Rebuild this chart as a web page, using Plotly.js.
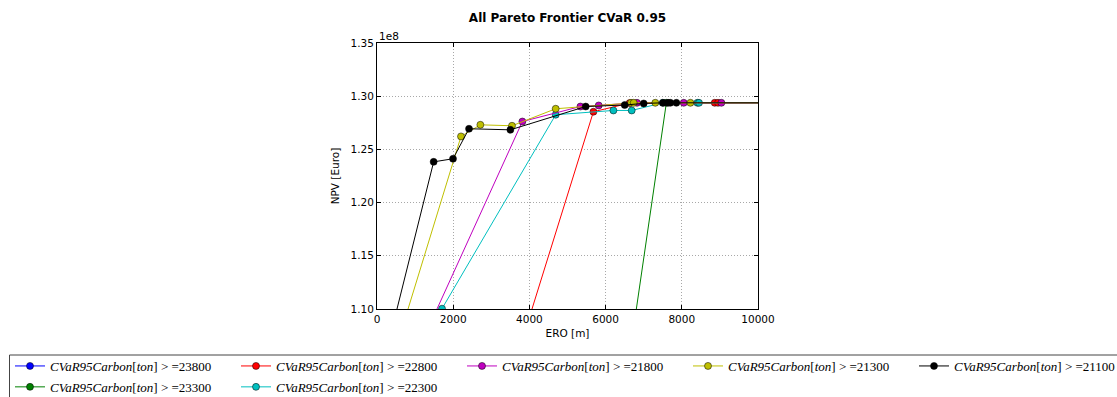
<!DOCTYPE html>
<html>
<head>
<meta charset="utf-8">
<script src="https://cdn.plot.ly/plotly-3.0.1.min.js"></script>
<style>html,body{margin:0;padding:0;background:#fff;}#chart{width:1117px;height:397px;}</style>
</head>
<body>
<div id="chart"></div>
<script>
// ERO [m] and NPV [1e8 Euro] per CVaR95 carbon constraint
const labels = ["23800", "23300", "22800", "22300", "21800", "21300", "21100"];

const ero_23800 = [10200, 10800, 11200];
const npv_23800 = [1.0700, 1.2938, 1.2938];

const ero_23300 = [6700, 7595, 10400];
const npv_23300 = [1.0737, 1.2938, 1.2938];

const ero_22800 = [3800, 5680, 6630, 8864, 8950, 10400];
const npv_22800 = [1.0692, 1.2854, 1.2935, 1.2938, 1.2938, 1.2938];

const ero_22300 = [1706, 4690, 6205, 6685, 7500, 8409, 8451, 10400];
const npv_22300 = [1.1003, 1.2826, 1.2866, 1.2866, 1.2938, 1.2938, 1.2938, 1.2938];

const ero_21800 = [1300, 3816, 5339, 5819, 6824, 8050, 9039, 10400];
const npv_21800 = [1.0784, 1.2762, 1.2903, 1.2913, 1.2938, 1.2938, 1.2938, 1.2938];

const ero_21300 = [600, 2205, 2713, 3543, 4690, 6667, 6737, 7305, 8226, 10400];
const npv_21300 = [1.0750, 1.2622, 1.2731, 1.2722, 1.2882, 1.2938, 1.2938, 1.2938, 1.2938, 1.2938];

const ero_21100 = [300, 1487, 1995, 2415, 3501, 5478, 6501, 7000, 7507, 7638, 7700, 7858, 10400];
const npv_21100 = [1.0677, 1.2383, 1.2412, 1.2694, 1.2684, 1.2903, 1.2917, 1.2932, 1.2938, 1.2938, 1.2938, 1.2938, 1.2938];

const xTicks = [0, 2000, 4000, 6000, 8000, 10000];
const yTicks = [1.10, 1.15, 1.20, 1.25, 1.30, 1.35];

const series = [
  {x: ero_23800, y: npv_23800, lab: labels[0], color: '#0000ff', legend: 'legend'},
  {x: ero_23300, y: npv_23300, lab: labels[1], color: '#008000', legend: 'legend'},
  {x: ero_22800, y: npv_22800, lab: labels[2], color: '#ff0000', legend: 'legend2'},
  {x: ero_22300, y: npv_22300, lab: labels[3], color: '#00bfbf', legend: 'legend2'},
  {x: ero_21800, y: npv_21800, lab: labels[4], color: '#bf00bf', legend: 'legend3'},
  {x: ero_21300, y: npv_21300, lab: labels[5], color: '#bfbf00', legend: 'legend4'},
  {x: ero_21100, y: npv_21100, lab: labels[6], color: '#000000', legend: 'legend5'}
];

const traces = series.map((s, i) => ({
  type: 'scatter',
  mode: 'lines+markers',
  x: s.x,
  y: s.y,
  name: '<i>CVaR95Carbon</i>[<i>ton</i>] &gt; =' + s.lab,
  legend: s.legend,
  legendgroup: 'g' + i,
  line: {color: s.color, width: 1},
  marker: {color: s.color, size: 7, line: {color: '#000', width: 0.5}},
  cliponaxis: true
}));

const W = 1117, H = 397;
const L = 377, R = 758, T = 43, B = 309;
const pw = R - L, ph = B - T;
const px = p => (p - L) / pw;
const py = p => (B - p) / ph;

const legFont = {family: 'Liberation Serif, serif', size: 13, color: '#000'};
const legBase = {
  orientation: 'v', xanchor: 'left', yanchor: 'top',
  bgcolor: 'rgba(0,0,0,0)', borderwidth: 0, font: legFont,
  tracegroupgap: 1, itemwidth: 30
};
const legTop = py(351);

const axisCommon = {
  showline: true, linecolor: '#000', linewidth: 1, mirror: 'ticks',
  ticks: 'inside', ticklen: 4, tickcolor: '#000',
  showgrid: true, gridcolor: '#a8a8a8', griddash: '1px,2px', gridwidth: 1,
  zeroline: false,
  tickfont: {family: 'DejaVu Sans', size: 10.5, color: '#000'}
};

const layout = {
  width: W, height: H,
  margin: {l: L, r: W - R, t: T, b: H - B, autoexpand: false},
  paper_bgcolor: '#fff', plot_bgcolor: '#fff',
  title: {
    text: '<b>All Pareto Frontier CVaR 0.95</b>',
    font: {family: 'DejaVu Sans', size: 12, color: '#000'},
    x: 0.5, xref: 'paper', xanchor: 'center',
    y: 1 - 18 / H, yref: 'container', yanchor: 'middle'
  },
  font: {family: 'DejaVu Sans', size: 10, color: '#000'},
  xaxis: Object.assign({}, axisCommon, {
    range: [0, 10000], tickvals: xTicks, ticktext: xTicks.map(String),
    title: {text: 'ERO [m]', font: {family: 'DejaVu Sans', size: 10.5, color: '#000'}, standoff: 6}
  }),
  yaxis: Object.assign({}, axisCommon, {
    range: [1.10, 1.35], tickvals: yTicks, ticktext: yTicks.map(v => v.toFixed(2)),
    title: {text: 'NPV [Euro]', font: {family: 'DejaVu Sans', size: 10.5, color: '#000'}, standoff: 8}
  }),
  showlegend: true,
  legend:  Object.assign({}, legBase, {x: px(10),  y: legTop}),
  legend2: Object.assign({}, legBase, {x: px(236), y: legTop}),
  legend3: Object.assign({}, legBase, {x: px(462), y: legTop}),
  legend4: Object.assign({}, legBase, {x: px(688), y: legTop}),
  legend5: Object.assign({}, legBase, {x: px(914), y: legTop}),
  annotations: [{
    text: '1e8', xref: 'paper', yref: 'paper', x: 0, y: py(36),
    xanchor: 'left', yanchor: 'middle', showarrow: false,
    font: {family: 'DejaVu Sans', size: 10.5, color: '#000'}
  }],
  shapes: [{
    type: 'rect', xref: 'paper', yref: 'paper',
    x0: px(9.5), x1: px(1130), y0: py(355), y1: py(402),
    line: {color: '#444', width: 1}, fillcolor: 'rgba(0,0,0,0)', layer: 'above'
  }]
};

Plotly.newPlot('chart', traces, layout, {displayModeBar: false, responsive: false});
</script>
</body>
</html>
